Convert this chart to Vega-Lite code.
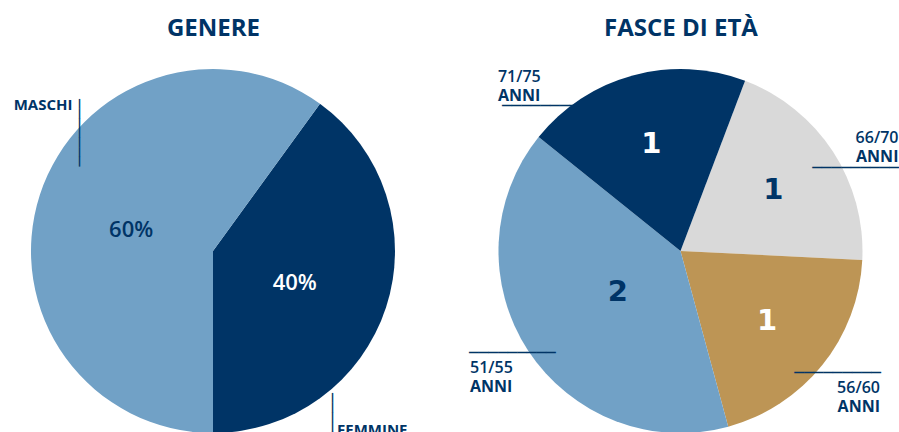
{
  "$schema": "https://vega.github.io/schema/vega-lite/v6.json",
  "width": 899,
  "height": 362,
  "autosize": {"type": "none"},
  "padding": {"top": 70, "left": 0, "right": 0, "bottom": 0},
  "background": "white",
  "datasets": {
    "genere": [
      {"grafico": "GENERE", "categoria": "FEMMINE", "valore": 0.4, "ordine": 1},
      {"grafico": "GENERE", "categoria": "MASCHI", "valore": 0.6, "ordine": 2}
    ],
    "eta": [
      {"grafico": "FASCE DI ETÀ", "categoria": "66/70", "valore": 1, "ordine": 1},
      {"grafico": "FASCE DI ETÀ", "categoria": "56/60", "valore": 1, "ordine": 2},
      {"grafico": "FASCE DI ETÀ", "categoria": "51/55", "valore": 2, "ordine": 3},
      {"grafico": "FASCE DI ETÀ", "categoria": "71/75", "valore": 1, "ordine": 4}
    ]
  },
  "encoding": {
    "x": {
      "field": "grafico",
      "type": "nominal",
      "scale": {"type": "point", "domain": ["GENERE", "FASCE DI ETÀ"], "padding": 0.4615, "align": 0.4936},
      "axis": {
        "orient": "top",
        "title": null,
        "domain": false,
        "ticks": false,
        "tickSize": 0,
        "grid": false,
        "labelAngle": 0,
        "labelPadding": 35,
        "labelBaseline": "alphabetic",
        "labelFont": "Open Sans",
        "labelFontWeight": "bold",
        "labelFontSize": 24,
        "labelColor": "#003466",
        "labelLimit": 400
      }
    }
  },
  "layer": [
    {
      "data": {"name": "genere"},
      "mark": {"type": "arc", "radius": 182},
      "encoding": {
        "theta": {"field": "valore", "type": "quantitative", "stack": true, "scale": {"range": [0.6283, 6.9115]}},
        "order": {"field": "ordine", "type": "quantitative"},
        "color": {
          "field": "categoria", "type": "nominal", "legend": null,
          "scale": {"domain": ["MASCHI", "FEMMINE", "51/55", "56/60", "66/70", "71/75"],
                    "range": ["#71a1c6", "#003466", "#71a1c6", "#bd9555", "#d9d9d9", "#003466"]}
        }
      }
    },
    {
      "data": {"name": "eta"},
      "mark": {"type": "arc", "radius": 182},
      "encoding": {
        "theta": {"field": "valore", "type": "quantitative", "stack": true, "scale": {"range": [0.363, 6.646]}},
        "order": {"field": "ordine", "type": "quantitative"},
        "color": {"field": "categoria", "type": "nominal", "legend": null}
      }
    },
    {
      "data": {"name": "genere"},
      "mark": {"type": "text", "radius": 86, "dy": 5.5, "font": "Open Sans", "fontWeight": 600, "fontSize": 22, "baseline": "middle", "align": "center"},
      "encoding": {
        "theta": {"field": "valore", "type": "quantitative", "stack": true, "scale": {"range": [0.6283, 6.9115]}},
        "order": {"field": "ordine", "type": "quantitative"},
        "text": {"field": "valore", "type": "quantitative", "format": ".0%"},
        "color": {"condition": {"test": "datum.categoria === 'FEMMINE'", "value": "#ffffff"}, "value": "#003466"}
      }
    },
    {
      "data": {"name": "eta"},
      "mark": {"type": "text", "radius": {"expr": "datum.valore > 1 ? 75 : 111"}, "font": "DejaVu Sans", "fontWeight": "bold", "fontSize": 29, "baseline": "middle", "align": "center"},
      "encoding": {
        "theta": {"field": "valore", "type": "quantitative", "stack": true, "scale": {"range": [0.363, 6.646]}},
        "order": {"field": "ordine", "type": "quantitative"},
        "text": {"field": "valore", "type": "quantitative"},
        "color": {"condition": {"test": "datum.categoria === '71/75' || datum.categoria === '56/60'", "value": "#ffffff"}, "value": "#003466"}
      }
    },
    {
      "data": {"name": "genere"},
      "mark": {
        "type": "text", "radius": 200, "font": "Open Sans", "fontWeight": "bold", "fontSize": 15, "baseline": "alphabetic", "color": "#003466",
        "align": {"expr": "datum.categoria === 'MASCHI' ? 'right' : 'left'"},
        "dx": {"expr": "datum.categoria === 'MASCHI' ? 49.7 : -66.2"},
        "dy": {"expr": "datum.categoria === 'MASCHI' ? -79.2 : 122.2"}
      },
      "encoding": {
        "theta": {"field": "valore", "type": "quantitative", "stack": true, "scale": {"range": [0.6283, 6.9115]}},
        "order": {"field": "ordine", "type": "quantitative"},
        "text": {"field": "categoria", "type": "nominal"}
      }
    },
    {
      "data": {"name": "eta"},
      "mark": {
        "type": "text", "radius": 200, "font": "Open Sans", "fontWeight": 600, "fontSize": 16, "baseline": "alphabetic", "color": "#003466",
        "align": {"expr": "datum.categoria === '66/70' || datum.categoria === '56/60' ? 'right' : 'left'"},
        "dx": {"expr": "datum.categoria === '66/70' ? 50.6 : datum.categoria === '56/60' ? 43.6 : datum.categoria === '51/55' ? -43.1 : -130.1"},
        "dy": {"expr": "datum.categoria === '66/70' ? 1.5 : datum.categoria === '56/60' ? 16.7 : datum.categoria === '51/55' ? 12.5 : 24"}
      },
      "encoding": {
        "theta": {"field": "valore", "type": "quantitative", "stack": true, "scale": {"range": [0.363, 6.646]}},
        "order": {"field": "ordine", "type": "quantitative"},
        "text": {"field": "categoria", "type": "nominal"}
      }
    },
    {
      "data": {"name": "eta"},
      "mark": {
        "type": "text", "radius": 200, "font": "Open Sans", "fontWeight": "bold", "fontSize": 16, "baseline": "alphabetic", "color": "#003466",
        "align": {"expr": "datum.categoria === '66/70' || datum.categoria === '56/60' ? 'right' : 'left'"},
        "dx": {"expr": "datum.categoria === '66/70' ? 50.6 : datum.categoria === '56/60' ? 43.6 : datum.categoria === '51/55' ? -43.1 : -130.1"},
        "dy": {"expr": "datum.categoria === '66/70' ? 20.5 : datum.categoria === '56/60' ? 35.7 : datum.categoria === '51/55' ? 31.5 : 43"}
      },
      "encoding": {
        "theta": {"field": "valore", "type": "quantitative", "stack": true, "scale": {"range": [0.363, 6.646]}},
        "order": {"field": "ordine", "type": "quantitative"},
        "text": {"value": "ANNI"}
      }
    },
    {
      "data": {"name": "genere"},
      "mark": {
        "type": "text", "radius": 200, "font": "DejaVu Sans", "fontSize": 16, "baseline": "middle", "align": "left", "angle": 90, "color": "#003466",
        "text": "───────",
        "dx": {"expr": "datum.categoria === 'MASCHI' ? -90.2 : 80.2"},
        "dy": {"expr": "datum.categoria === 'MASCHI' ? -56.2 : 71.2"}
      },
      "encoding": {
        "theta": {"field": "valore", "type": "quantitative", "stack": true, "scale": {"range": [0.6283, 6.9115]}},
        "order": {"field": "ordine", "type": "quantitative"}
      }
    },
    {
      "data": {"name": "eta"},
      "mark": {
        "type": "text", "radius": 200, "font": "DejaVu Sans", "fontSize": 16, "baseline": "middle", "color": "#003466",
        "text": "─────────",
        "align": {"expr": "datum.categoria === '66/70' || datum.categoria === '56/60' ? 'right' : 'left'"},
        "dx": {"expr": "datum.categoria === '66/70' ? 51.1 : datum.categoria === '56/60' ? 44.6 : datum.categoria === '51/55' ? -44.1 : -126.1"},
        "dy": {"expr": "datum.categoria === '66/70' ? 26.5 : datum.categoria === '56/60' ? -3.3 : datum.categoria === '51/55' ? -7.5 : 48"}
      },
      "encoding": {
        "theta": {"field": "valore", "type": "quantitative", "stack": true, "scale": {"range": [0.363, 6.646]}},
        "order": {"field": "ordine", "type": "quantitative"}
      }
    }
  ],
  "resolve": {"scale": {"theta": "independent"}},
  "config": {"view": {"stroke": null}}
}
